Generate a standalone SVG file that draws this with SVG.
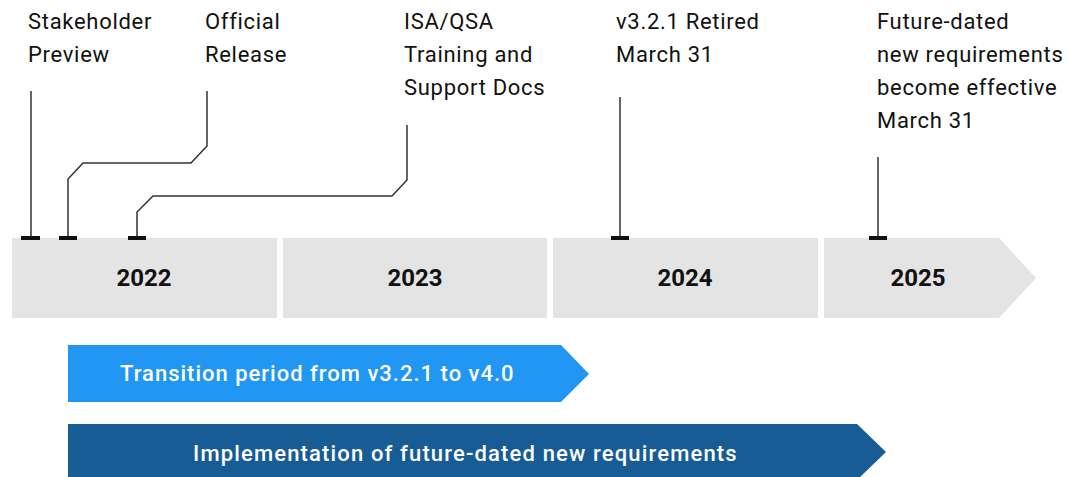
<svg xmlns="http://www.w3.org/2000/svg" width="1084" height="477" viewBox="0 0 1084 477">
<style>
.lbl{font-family:Roboto,"Liberation Sans",sans-serif;font-size:22px;letter-spacing:0.7px;fill:#111}
.yr{font-family:Roboto,"Liberation Sans",sans-serif;font-size:24px;font-weight:bold;fill:#111;text-anchor:middle}
.bar{fill:#e4e4e4}
.ln{fill:none;stroke:#333;stroke-width:1.5}
.cap{fill:#111}
.bt{font-family:Roboto,"Liberation Sans",sans-serif;font-size:22px;font-weight:500;letter-spacing:1px;fill:#fff}
</style>
<rect width="1084" height="477" fill="#fff"/>
<g id="year-2022"><rect class="bar" x="12" y="238" width="265" height="80"/><text class="yr" x="144" y="286">2022</text></g>
<g id="year-2023"><rect class="bar" x="283" y="238" width="264" height="80"/><text class="yr" x="415" y="286">2023</text></g>
<g id="year-2024"><rect class="bar" x="553" y="238" width="265" height="80"/><text class="yr" x="685" y="286">2024</text></g>
<g id="year-2025"><polygon class="bar" points="824,238 999,238 1036,278 999,318 824,318"/><text class="yr" x="918" y="286">2025</text></g>
<g id="transition"><polygon fill="#2196f3" points="68,345 561,345 589,374 561,402 68,402"/><text class="bt" x="120" y="381">Transition period from v3.2.1 to v4.0</text></g>
<g id="implementation"><polygon fill="#175c94" points="68,424 857,424 886,452 857,480 68,480"/><text class="bt" x="193" y="461" style="letter-spacing:1.15px">Implementation of future-dated new requirements</text></g>
<g id="m-stakeholder"><text class="lbl" x="28" y="29">Stakeholder</text><text class="lbl" x="28" y="62">Preview</text></g>
<g id="m-official"><text class="lbl" x="205" y="29">Official</text><text class="lbl" x="205" y="62">Release</text></g>
<g id="m-isa"><text class="lbl" x="404" y="29">ISA/QSA</text><text class="lbl" x="404" y="62">Training and</text><text class="lbl" x="404" y="95">Support Docs</text></g>
<g id="m-retired"><text class="lbl" x="616" y="29">v3.2.1 Retired</text><text class="lbl" x="616" y="62">March 31</text></g>
<g id="m-future"><text class="lbl" x="877" y="29">Future-dated</text><text class="lbl" x="877" y="62">new requirements</text><text class="lbl" x="877" y="95">become effective</text><text class="lbl" x="877" y="128">March 31</text></g>
<g id="connectors">
<polyline class="ln" points="31,91 31,238"/>
<polyline class="ln" points="207,91 207,146 191,163 83,163 68,179 68,238"/>
<polyline class="ln" points="407,125 407,180 392,196 153,196 137,212 137,238"/>
<polyline class="ln" points="620,97 620,238"/>
<polyline class="ln" points="878,157 878,238"/>
<rect class="cap" x="21" y="236" width="19" height="4"/>
<rect class="cap" x="59" y="236" width="18" height="4"/>
<rect class="cap" x="128" y="236" width="18" height="4"/>
<rect class="cap" x="611" y="236" width="18" height="4"/>
<rect class="cap" x="869" y="236" width="18" height="4"/>
</g>
</svg>
